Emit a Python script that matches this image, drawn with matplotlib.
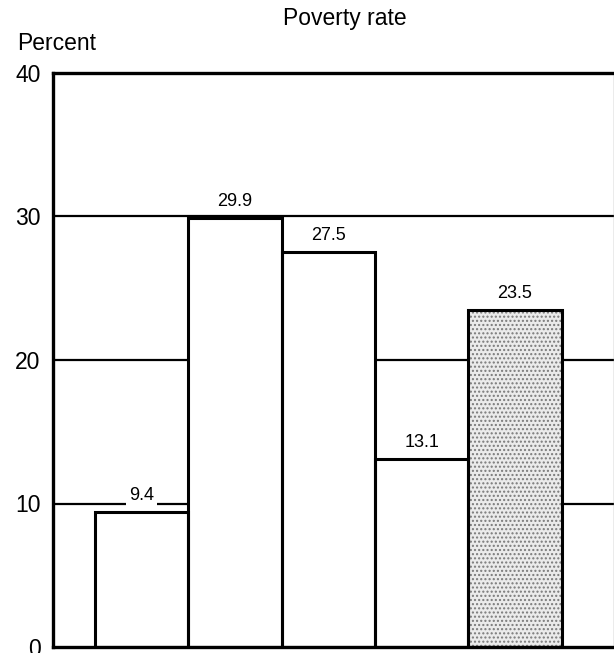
import matplotlib.pyplot as plt
import numpy as np

# poverty rate by group, percent
values = [9.4, 29.9, 27.5, 13.1, 23.5]
labels = ["9.4", "29.9", "27.5", "13.1", "23.5"]
fills = ["white", "white", "white", "white", "#ebebeb"]
hatches = [None, None, None, None, "...."]
yticks = [0, 10, 20, 30, 40]


def main():
    plt.rcParams["font.family"] = ["Liberation Sans", "DejaVu Sans"]

    fig = plt.figure(figsize=(6.14, 6.53), dpi=100)
    ax = fig.add_axes([53 / 614, 1 - 647 / 653, 1 - 53 / 614, (647 - 73) / 653])

    x = np.arange(len(values))

    for y in yticks[1:-1]:
        ax.axhline(y, color="black", lw=1.6, zorder=1)

    # shaded fill first, then black outlines on top
    for xi, v, fc, h in zip(x, values, fills, hatches):
        ax.bar(xi, v, width=1.0, color=fc, edgecolor="#7a7a7a" if h else fc,
               hatch=h, linewidth=0, zorder=2)
    ax.bar(x, values, width=1.0, fill=False, edgecolor="black", linewidth=2.2, zorder=3)

    for xi, v, t in zip(x, values, labels):
        ax.annotate(t, (xi, v), xytext=(0, 12), textcoords="offset points",
                    ha="center", va="center", fontsize=13, zorder=4,
                    bbox=dict(boxstyle="square,pad=0.15", fc="white", ec="none"))

    ax.set_xlim(-0.95, 5.06)
    ax.set_ylim(0, 40)
    ax.set_yticks(yticks)
    ax.set_xticks([])
    ax.tick_params(axis="y", length=0, pad=9, labelsize=16.5)

    for side in ["left", "top", "bottom"]:
        ax.spines[side].set_linewidth(2.4)
    ax.spines["right"].set_linewidth(1.0)
    ax.spines["right"].set_color("#999999")

    fig.text(17 / 614, 1 - 44 / 653, "Percent", fontsize=16.5, ha="left", va="center")
    fig.text(345 / 614, 1 - 18 / 653, "Poverty rate", fontsize=16.5, ha="center", va="center")

    fig.savefig("out.png", dpi=100)


if __name__ == "__main__":
    main()
